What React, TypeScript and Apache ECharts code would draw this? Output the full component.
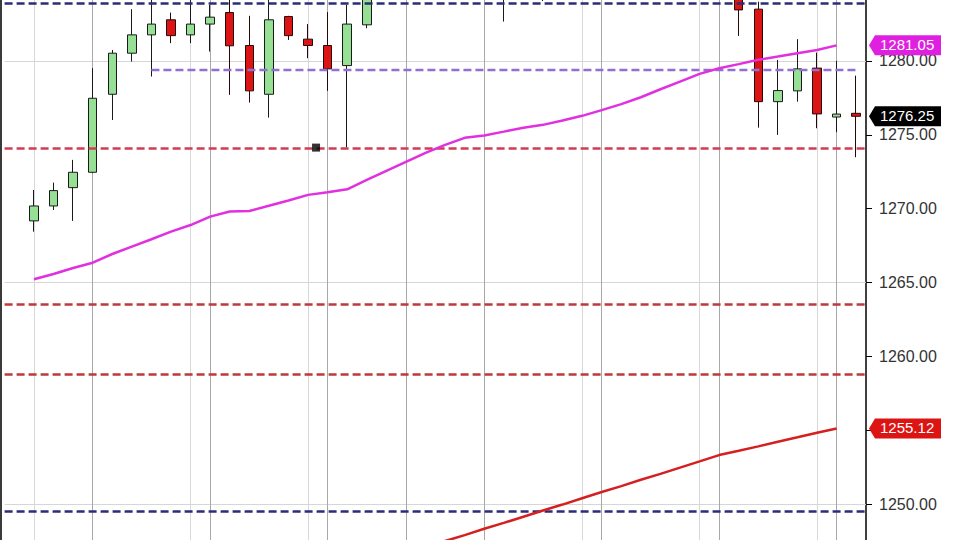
import React, { useEffect, useRef } from "react";
import * as echarts from "echarts";

// ---------- data ----------
const barLabels = [
  "1", "2", "3", "4", "5", "6", "7", "8", "9", "10",
  "11", "12", "13", "14", "15", "16", "17", "18", "19", "20",
  "21", "22", "23", "24", "25", "26", "27", "28", "29", "30",
  "31", "32", "33", "34", "35", "36", "37", "38", "39", "40",
  "41", "42", "43",
];
// one empty slot before the first bar
const categories = ["", ...barLabels];
const PAD = 1;

// [open, close, low, high]
const ohlc: number[][] = [
  [1269.17, 1270.18, 1268.44, 1271.26],
  [1270.18, 1271.22, 1269.91, 1271.76],
  [1271.42, 1272.46, 1269.17, 1273.30],
  [1272.46, 1277.47, 1272.40, 1279.51],
  [1277.74, 1280.52, 1276.00, 1280.74],
  [1280.52, 1281.76, 1279.95, 1283.50],
  [1281.76, 1282.49, 1278.94, 1285.00],
  [1282.78, 1281.71, 1281.20, 1283.27],
  [1281.76, 1282.49, 1281.20, 1284.60],
  [1282.49, 1282.96, 1280.63, 1283.79],
  [1283.27, 1281.02, 1277.70, 1284.80],
  [1281.04, 1277.97, 1277.18, 1283.05],
  [1277.74, 1282.78, 1276.16, 1285.20],
  [1283.00, 1281.71, 1281.42, 1283.05],
  [1281.47, 1281.04, 1280.18, 1282.49],
  [1281.04, 1279.46, 1277.97, 1283.30],
  [1279.68, 1282.49, 1274.13, 1283.79],
  [1282.44, 1285.60, 1282.21, 1286.40],
  [1285.60, 1287.00, 1285.00, 1287.80],
  [1287.00, 1288.20, 1286.50, 1289.00],
  [1288.20, 1287.50, 1286.90, 1289.30],
  [1287.50, 1288.80, 1287.00, 1289.60],
  [1288.80, 1287.10, 1286.40, 1289.20],
  [1287.10, 1285.90, 1285.20, 1287.60],
  [1285.90, 1286.80, 1282.66, 1287.40],
  [1286.80, 1287.90, 1286.20, 1288.50],
  [1287.90, 1286.50, 1284.05, 1288.30],
  [1286.50, 1288.00, 1285.90, 1288.70],
  [1288.00, 1289.40, 1287.50, 1290.10],
  [1289.40, 1288.60, 1288.00, 1290.30],
  [1288.60, 1290.20, 1288.10, 1290.80],
  [1290.20, 1289.10, 1288.50, 1290.90],
  [1289.10, 1290.50, 1288.70, 1291.20],
  [1290.50, 1289.30, 1288.60, 1291.00],
  [1289.30, 1288.10, 1287.40, 1289.90],
  [1288.10, 1286.90, 1285.60, 1288.60],
  [1285.50, 1283.45, 1281.69, 1286.50],
  [1283.50, 1277.24, 1275.48, 1284.00],
  [1277.24, 1277.99, 1274.99, 1280.07],
  [1277.97, 1279.46, 1277.24, 1281.47],
  [1279.51, 1276.41, 1275.44, 1280.56],
  [1276.20, 1276.40, 1275.17, 1280.00],
  [1276.45, 1276.25, 1273.48, 1279.00],
];

// magenta moving average, from bar 0
const fastAvg = [
  1265.22, 1265.58, 1265.98, 1266.34, 1266.93, 1267.43, 1267.93, 1268.44, 1268.89, 1269.46,
  1269.80, 1269.84, 1270.19, 1270.55, 1270.93, 1271.11, 1271.31, 1271.94, 1272.55, 1273.16,
  1273.77, 1274.31, 1274.79, 1274.95, 1275.21, 1275.48, 1275.67, 1275.96, 1276.28, 1276.67,
  1277.07, 1277.54, 1278.08, 1278.60, 1279.12, 1279.50, 1279.78, 1280.07, 1280.29, 1280.52,
  1280.74, 1281.05,
];
// red moving average, from bar 19
const slowAvgStart = 19;
const slowAvg = [
  1246.68, 1247.09, 1247.50, 1247.90, 1248.33, 1248.73, 1249.15, 1249.57, 1249.97, 1250.40,
  1250.82, 1251.22, 1251.65, 1252.05, 1252.47, 1252.89, 1253.32, 1253.61, 1253.91, 1254.22,
  1254.52, 1254.83, 1255.12,
];

const navyLevels = [1283.9, 1249.49];
const redLevels = [1274.08, 1263.56, 1258.78];
const purpleLevel = 1279.39;
const purpleFrom = 6;
const purpleTo = 42;
const gridLevels = [1250, 1265, 1280];
const lightDividers = [0, 8, 14, 28, 34, 40];
const darkDividers = [3, 9, 15, 19, 23, 29, 35, 41];
const markerBar = 14;
const markerValue = 1274.13;

const yMin = 1245;
const yMax = 1285;
const yStep = 5;

const tagBar = 41;
const tagValues = [1281.05, 1276.25, 1255.12];
const tagColors = ["#e020e0", "#000000", "#dd1414"];

const FONT = "'Liberation Sans', Arial, sans-serif";

export default function App() {
  const ref = useRef<HTMLDivElement>(null);

  useEffect(() => {
    if (!ref.current) return;
    const chart = echarts.init(ref.current, undefined, { renderer: "svg" });
    const xs = (i: number) => i + PAD;
    const dash = [8, 4];
    // an axis label that a price tag sits on is hidden behind that tag
    const coveredByTag = (v: number) => tagValues.some((t) => Math.abs(t - v) < 0.5);

    const option: any = {
      animation: false,
      backgroundColor: "#ffffff",
      grid: { left: 4.6, right: 94, top: 0, bottom: 0, outerBoundsMode: "none", containLabel: false },
      xAxis: {
        type: "category",
        data: categories,
        boundaryGap: true,
        axisLine: { show: false },
        axisTick: { show: false },
        axisLabel: { show: false },
        splitLine: { show: false },
      },
      yAxis: {
        type: "value",
        position: "right",
        min: yMin,
        max: yMax,
        interval: yStep,
        axisLine: { show: true, lineStyle: { color: "#000", width: 1.5 } },
        axisTick: { show: true, length: 6, lineStyle: { color: "#000", width: 1 } },
        axisLabel: {
          margin: 13,
          color: "#333",
          fontSize: 16,
          lineHeight: 14,
          fontFamily: FONT,
          showMinLabel: false,
          showMaxLabel: false,
          formatter: (v: number) => (coveredByTag(v) ? "" : v.toFixed(2)),
        },
        splitLine: { show: false },
      },
      graphic: [
        {
          type: "rect",
          silent: true,
          shape: { x: 0, y: 0, width: 2, height: 600 },
          style: { fill: "#3a3a3a" },
        },
      ],
      series: [
        {
          type: "candlestick",
          name: "Price",
          z: 2,
          barWidth: 9,
          data: ohlc.map((d, i) => [xs(i), d[0], d[1], d[2], d[3]]),
          encode: { x: 0, y: [1, 2, 3, 4] },
          itemStyle: {
            color: "#96e096",
            color0: "#dd1414",
            borderColor: "#1a1a1a",
            borderColor0: "#2a0606",
            borderWidth: 1,
          },
          markLine: {
            z: 1,
            silent: true,
            symbol: "none",
            animation: false,
            label: { show: false },
            data: [
              ...gridLevels.map((v) => ({
                yAxis: v,
                lineStyle: { color: "#d6d6d6", width: 1, type: "solid" },
              })),
              ...lightDividers.map((i) => ({
                xAxis: categories[xs(i)],
                lineStyle: { color: "#d8d8d8", width: 1, type: "solid" },
              })),
              ...darkDividers.map((i) => ({
                xAxis: categories[xs(i)],
                lineStyle: { color: "#a8a8a8", width: 1, type: "solid" },
              })),
            ],
          },
        },
        {
          type: "line",
          name: "Fast average",
          z: 4,
          data: fastAvg.map((v, i) => [xs(i), v]),
          showSymbol: false,
          symbol: "none",
          lineStyle: { color: "#e030e0", width: 2.5 },
          markLine: {
            z: 3,
            silent: true,
            symbol: "none",
            animation: false,
            label: { show: false },
            data: [
              ...navyLevels.map((v) => ({
                yAxis: v,
                lineStyle: { color: "#2c2c78", width: 2.5, type: dash },
              })),
              ...redLevels.map((v, i) => ({
                yAxis: v,
                lineStyle: { color: i === 0 ? "#d23c52" : "#bc3a3a", width: 2.5, type: dash },
              })),
            ],
          },
        },
        {
          type: "line",
          name: "Slow average",
          z: 4,
          data: slowAvg.map((v, i) => [xs(slowAvgStart + i), v]),
          showSymbol: false,
          symbol: "none",
          lineStyle: { color: "#d42020", width: 2.5 },
        },
        {
          type: "line",
          name: "Level",
          z: 3,
          data: [
            [xs(purpleFrom), purpleLevel],
            [xs(purpleTo), purpleLevel],
          ],
          showSymbol: false,
          symbol: "none",
          lineStyle: { color: "#9070d0", width: 2.5, type: dash },
        },
        {
          type: "scatter",
          name: "Marker",
          z: 5,
          symbol: "rect",
          symbolSize: 8,
          symbolOffset: [8, 0],
          data: [[xs(markerBar), markerValue]],
          itemStyle: { color: "#000" },
        },
        {
          type: "custom",
          name: "Tags",
          z: 10,
          clip: false,
          silent: true,
          data: tagValues.map((v, i) => [xs(tagBar), v, i]),
          renderItem: (params: any, api: any) => {
            const cs = params.coordSys;
            const val = api.value(1) as number;
            const y = api.coord([api.value(0), val])[1];
            const x0 = cs.x + cs.width + 3;
            const h = 10;
            const color = tagColors[api.value(2) as number];
            return {
              type: "group",
              children: [
                {
                  type: "polygon",
                  shape: {
                    points: [
                      [x0, y],
                      [x0 + 6, y - h],
                      [x0 + 72, y - h],
                      [x0 + 72, y + h],
                      [x0 + 6, y + h],
                    ],
                  },
                  style: { fill: color },
                },
                {
                  type: "text",
                  style: {
                    text: val.toFixed(2),
                    x: x0 + 11,
                    y: y - 1,
                    verticalAlign: "middle",
                    align: "left",
                    fill: "#ffffff",
                    fontSize: 15,
                    lineHeight: 13,
                    fontFamily: FONT,
                  },
                },
              ],
            };
          },
        },
      ],
    };

    chart.setOption(option);
    return () => chart.dispose();
  }, []);

  return (
    <div
      style={{
        position: "absolute",
        left: 0,
        top: 0,
        width: 960,
        height: 540,
        overflow: "hidden",
        background: "#fff",
      }}
    >
      <div
        ref={ref}
        style={{ position: "absolute", left: 0, top: -13, width: 960, height: 591 }}
      />
    </div>
  );
}
